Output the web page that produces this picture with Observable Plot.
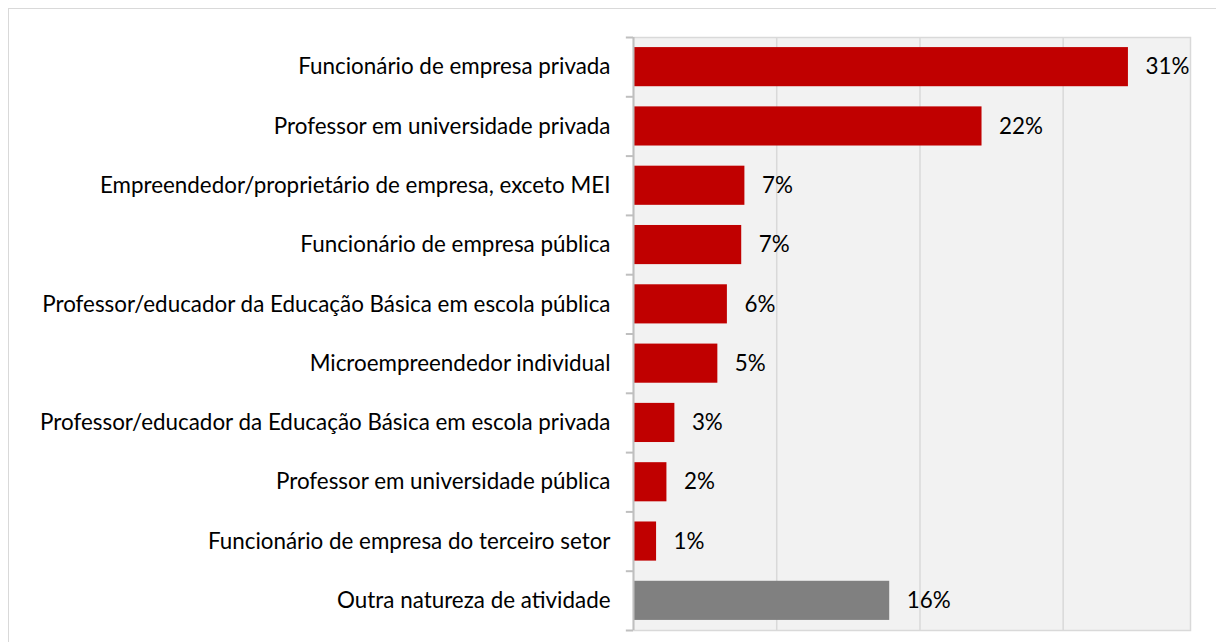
<!DOCTYPE html>
<html>
<head>
<meta charset="utf-8">
<script src="https://cdn.jsdelivr.net/npm/d3@7"></script>
<script src="https://cdn.jsdelivr.net/npm/@observablehq/plot@0.6"></script>
<style>
  html, body { margin: 0; padding: 0; background: #fff; }
  #wrap { position: relative; width: 1216px; height: 642px; overflow: hidden; }
  #border { position: absolute; left: 8px; top: 8px; width: 1240px; height: 700px; border: 1px solid #d9d9d9; box-sizing: border-box; }
  #chart { position: absolute; left: 0; top: 0; }
</style>
</head>
<body>
<div id="wrap"><div id="border"></div><div id="chart"></div></div>
<script>
const categories = [
  "Funcionário de empresa privada",
  "Professor em universidade privada",
  "Empreendedor/proprietário de empresa, exceto MEI",
  "Funcionário de empresa pública",
  "Professor/educador da Educação Básica em escola pública",
  "Microempreendedor individual",
  "Professor/educador da Educação Básica em escola privada",
  "Professor em universidade pública",
  "Funcionário de empresa do terceiro setor",
  "Outra natureza de atividade"
];
const values = [0.311, 0.219, 0.070, 0.068, 0.059, 0.053, 0.026, 0.021, 0.0145, 0.161];
const valueLabels = ["31%", "22%", "7%", "7%", "6%", "5%", "3%", "2%", "1%", "16%"];
const groups = ["main", "main", "main", "main", "main", "main", "main", "main", "main", "other"];
const gridTicks = [0.09, 0.18, 0.27];

const data = categories.map((c, i) => ({label: c, value: values[i], text: valueLabels[i], group: groups[i]}));

const FONT = "Lato, 'Open Sans', sans-serif";
const FS = 22.4;
const step = (630 - 37) / categories.length;

const chart = Plot.plot({
  width: 1216,
  height: 642,
  marginLeft: 633,
  marginRight: 26,
  marginTop: 37,
  marginBottom: 12,
  style: {fontFamily: FONT, fontSize: FS + "px", color: "#000", background: "transparent", overflow: "visible"},
  x: {domain: [0, 0.35], axis: null},
  y: {domain: categories, paddingInner: 0.34, paddingOuter: 0.17, round: false, axis: null},
  color: {domain: ["main", "other"], range: ["#c00000", "#808080"]},
  marks: [
    Plot.frame({fill: "#f2f2f2", stroke: "#d9d9d9", strokeWidth: 1.5}),
    Plot.gridX(gridTicks, {stroke: "#d9d9d9", strokeOpacity: 1, strokeWidth: 1.5}),
    Plot.barX(data, {x: "value", y: "label", fill: "group"}),
    Plot.ruleX([0], {stroke: "#bfbfbf", strokeWidth: 2}),
    Plot.ruleY(categories, {y: d => d, dy: -step / 2, x1: -0.0045, x2: 0, stroke: "#bfbfbf", strokeWidth: 2}),
    Plot.ruleY(categories.slice(-1), {y: d => d, dy: step / 2, x1: -0.0045, x2: 0, stroke: "#bfbfbf", strokeWidth: 2}),
    Plot.axisY({tickSize: 0, tickPadding: 23, label: null, fontSize: FS, fill: "#000"}),
    Plot.text(data, {x: "value", y: "label", text: "text", dx: 17, textAnchor: "start", fontSize: FS, fill: "#000"})
  ]
});
document.getElementById("chart").appendChild(chart);
</script>
</body>
</html>
